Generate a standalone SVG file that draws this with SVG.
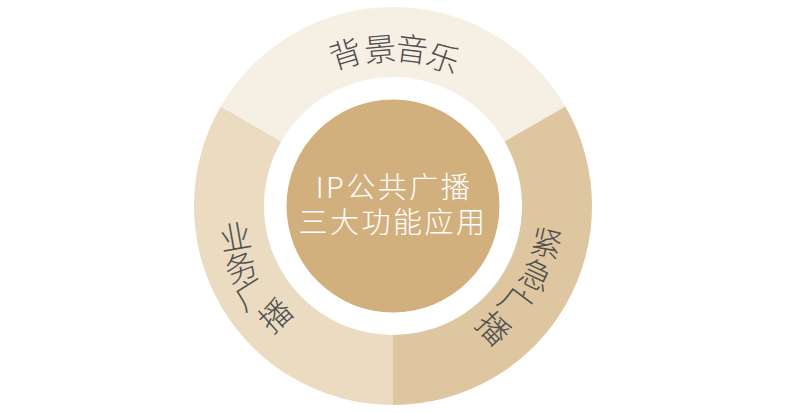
<svg xmlns="http://www.w3.org/2000/svg" width="800" height="413" viewBox="0 0 800 413">
<style>
.ring{font-family:"Noto Sans CJK SC","Noto Sans",sans-serif;font-size:32px;font-weight:300;fill:#4f4f4f;text-anchor:middle;dominant-baseline:central}
.core{font-family:"Noto Sans CJK SC","Noto Sans",sans-serif;font-size:29px;font-weight:300;fill:#ffffff;text-anchor:middle;letter-spacing:2.5px}
</style>
<rect width="800" height="413" fill="#ffffff"/>
<g id="bg-music">
<path d="M220.66 106.5 A199 199 0 0 1 565.34 106.5 L504.72 141.5 A129 129 0 0 0 281.28 141.5 Z" fill="#f6efe4"/>
<text class="ring" transform="translate(345,52) rotate(-17)">背</text>
<text class="ring" transform="translate(380,47) rotate(-5)">景</text>
<text class="ring" transform="translate(412,47) rotate(7)">音</text>
<text class="ring" transform="translate(444,56) rotate(19)">乐</text>
</g>
<g id="emergency">
<path d="M565.34 106.5 A199 199 0 0 1 393 405 L393 335 A129 129 0 0 0 504.72 141.5 Z" fill="#dec6a0"/>
<text class="ring" transform="translate(547,241) rotate(13)">紧</text>
<text class="ring" transform="translate(537,273) rotate(25)">急</text>
<text class="ring" transform="translate(517,301) rotate(37)">广</text>
<text class="ring" transform="translate(495,327) rotate(47)">播</text>
</g>
<g id="business">
<path d="M393 405 A199 199 0 0 1 220.66 106.5 L281.28 141.5 A129 129 0 0 0 393 335 Z" fill="#eadbc1"/>
<text class="ring" transform="translate(235,235) rotate(-10)">业</text>
<text class="ring" transform="translate(240,265) rotate(-21)">务</text>
<text class="ring" transform="translate(250,292) rotate(-32)">广</text>
<text class="ring" transform="translate(274,314) rotate(-42)">播</text>
</g>
<g id="center">
<circle cx="393" cy="206" r="106.5" fill="#d2b07e"/>
<text class="core"><tspan x="394" y="198">IP公共广播</tspan><tspan x="393" y="233">三大功能应用</tspan></text>
</g>
<g id="connectors"></g>
</svg>
